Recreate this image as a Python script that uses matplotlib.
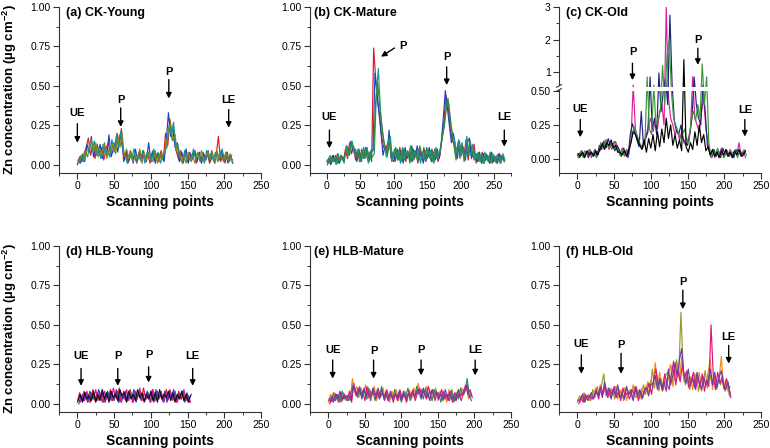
import numpy as np
import matplotlib
matplotlib.use('Agg')
import matplotlib.pyplot as plt
from matplotlib.ticker import MultipleLocator, FixedLocator, FixedFormatter, FormatStrFormatter

plt.rcParams['font.family'] = ['Liberation Sans', 'DejaVu Sans']
plt.rcParams['mathtext.fontset'] = 'custom'
plt.rcParams['mathtext.rm'] = 'Liberation Sans'
plt.rcParams['mathtext.bf'] = 'Liberation Sans:bold'

# ---------------- data (Zn, in units of 0.01 ug cm^-2), sampled every 3 scanning points ----------------
STEP = 3

# (a) CK-Young
a_s1 = [0,5,2,7,11,17,6,12,4,13, 6,11,3,10,14,7,12,9,20,14, 23,2,8,1,9,3,7,1,8,2, 9,4,6,1,8,3,7,2,9,3,
        20,12,29,16,21,8,3,9,1,7, 2,8,3,9,1,6,2,8,3,7, 1,9,2,6,18,2,7,1,8,2,6]
a_s2 = [3,1,6,2,13,8,18,5,11,7, 13,4,12,6,19,5,10,15,8,19, 12,3,9,2,7,1,10,3,8,4, 6,2,14,3,9,1,7,4,6,2,
        15,33,18,24,11,14,2,8,3,10, 1,7,4,9,2,8,1,7,3,9, 2,6,1,8,3,9,2,7,1,6,3]
a_s3 = [1,6,2,8,5,14,9,15,6,10, 4,13,7,9,5,16,8,18,11,21, 9,6,1,7,4,10,2,6,3,9, 1,8,5,2,10,4,8,1,6,9,
        11,25,19,27,9,13,4,1,9,3, 7,2,10,4,8,2,6,1,9,4, 7,3,8,2,5,10,3,8,2,5,1]
a_s4 = [2,3,7,3,9,10,16,8,14,5, 10,6,14,4,10,9,14,7,17,11, 20,5,10,4,8,2,6,4,10,1, 7,3,8,5,2,9,1,7,3,8,
        13,22,26,15,19,7,9,2,6,1, 8,3,6,1,7,4,9,2,5,8, 3,7,1,9,4,6,2,8,3,7,1]

# (b) CK-Mature
b_s1 = [0,5,1,6,2,7,1,5,3, 10,4,14,7,12, 3,9,2,10,4,11,3,8,2, 74,55,40,30,18,11,9,14,12,4,
        2,9,3,11,5,10,2,8,4,12,3,9,1,10,4,11,2,8,5,10,3,9,2, 6,17,28,44,38,24,16,13,
        5,14,4,12,6,16,3,11,5,13, 1,7,3,8,1,6,2,7,1,5,3,7,1,6,2]
b_s2 = [2,4,0,6,2,5,1,6,3, 6,12,8,15,9, 9,2,10,3,8,4,11,2,9, 9,58,45,33,20,6,12,5,22,4,
        8,2,10,3,9,1,11,4,8,2,10,5,12,3,8,1,9,4,11,2,8,3,10, 4,15,30,47,36,25,14,20,
        12,4,15,6,11,3,14,17,4,9, 6,2,8,1,7,3,6,1,8,2,5,1,7,3,5]
b_s3 = [1,6,2,4,0,7,2,5,1, 12,6,13,15,7, 6,10,2,9,4,10,1,8,5, 7,45,61,35,22,13,5,15,18,3,
        10,4,9,1,11,3,8,5,12,2,9,4,10,1,8,3,11,5,9,2,10,4,7, 11,19,26,40,39,27,18,15,
        8,16,5,12,3,18,9,6,13,4, 7,2,6,1,8,3,5,1,7,2,6,4,1,7,3]
b_s4 = [3,1,5,2,6,1,4,6,2, 8,11,6,13,10, 10,4,7,2,11,5,9,3,8, 10,40,52,38,25,15,10,7,15,2,
        6,11,3,8,2,10,5,9,1,11,4,7,2,12,6,9,3,10,4,8,1,11,5, 8,16,24,35,42,30,20,12,
        3,12,8,14,2,10,6,15,9,3, 4,8,2,6,1,7,3,8,2,6,1,5,3,6,2]

# (c) CK-Old
c_s1 = [1,5,2,6,3,7,1,5,2,6, 6,12,9,14,7,12,10,13,8, 3,8,2,7,3, 14,60,22,16,11,
        9,13,18,25,30,20,28,22,35,40,25,300,45,30,25,18,22,14,20,12,10,15,22,85,30,25,20,35,45,22,12,
        2,7,1,6,3,8,1,5,2,7,1,6,3,12,2,6,1]
c_s2 = [3,1,6,2,5,1,6,3,7,2, 10,7,13,8,15,9,11,6,10, 7,2,8,4,1, 18,26,20,14,9,
        35,10,15,20,85,22,30,18,97,35,50,80,40,275,60,28,20,18,25,15,12,10,18,30,85,40,30,25,60,35,10,
        5,1,7,2,6,1,8,3,6,2,5,1,7,3,6,2,5]
c_s3 = [2,6,1,5,3,7,2,6,1,5, 12,8,14,9,11,7,13,9,6, 2,7,3,6,8, 16,24,19,15,10,
        8,12,85,22,18,60,25,30,35,120,40,150,200,50,30,25,20,15,18,22,14,12,30,35,28,40,30,125,40,85,12,
        1,6,3,8,2,5,1,7,2,6,3,7,1,5,2,7,3]
c_s4 = [4,2,5,1,6,3,5,2,6,3, 8,11,7,12,10,14,8,10,5, 5,3,6,2,7, 12,20,18,14,10,
        7,14,5,15,8,18,6,20,9,22,12,30,15,25,10,18,8,14,6,138,9,5,12,7,20,10,25,12,18,6,9,
        3,7,2,5,1,6,3,7,2,5,1,6,3,7,2,4,6]

# (d) HLB-Young
d_s1 = [1,7,2,8,3,6,1,9,2,7, 3,8,1,6,4,9,2,7,3,10, 1,8,2,6,9,1,7,3,8,2, 10,4,7,1,9,2,6,3,8,1, 7,2,9,4,6,1,8,3,7,2, 6,1]
d_s2 = [3,1,6,2,8,1,7,3,9,2, 6,1,8,3,7,2,10,4,8,1, 6,3,9,2,7,1,8,4,10,2, 7,3,6,1,9,2,8,4,6,1, 9,3,7,2,8,1,6,3,9,2, 5,1]
d_s3 = [0,5,2,7,1,8,3,6,2,9, 4,7,1,8,3,6,2,9,1,7, 3,8,2,6,4,9,1,7,3,6, 2,8,4,7,1,9,3,6,2,8, 1,7,3,9,2,6,4,8,1,7, 3,6]
d_s4 = [2,6,1,7,3,5,2,8,1,6, 2,9,3,7,1,8,4,6,2,9, 5,7,1,8,3,6,2,9,4,7, 1,6,3,8,2,7,1,9,3,6, 4,8,2,7,1,6,3,8,2,6, 1,5]

# (e) HLB-Mature
e_s1 = [1,6,2,7,3,5,1,7,2,6, 3,16,7,11,4,10,6,12,3,9, 5,11,2,8,4,10,3,7,1,8, 3,9,2,7,4,8,2,9,3,10,
        5,13,4,9,6,11,3,8,5,10, 2,8,4,7,1,9,3,6,2,8, 4,10,6,11,3,7]
e_s2 = [3,1,7,2,6,1,8,3,5,2, 7,12,9,4,11,5,9,3,10,6, 8,2,9,4,11,3,8,2,6,4, 9,3,8,1,7,5,10,2,8,4,
        11,6,9,3,10,4,8,2,9,5, 7,1,8,3,6,2,9,1,7,3, 10,5,8,16,5,2]
e_s3 = [0,5,2,6,1,7,3,5,2,8, 1,13,5,10,6,8,2,11,4,7, 9,3,10,5,7,2,9,4,6,1, 7,2,9,3,6,1,8,4,9,2,
        7,10,5,8,3,11,6,9,2,7, 4,9,3,6,2,8,1,7,4,6, 2,8,12,6,9,4]
e_s4 = [2,4,1,6,3,8,2,6,4,5, 2,11,8,6,9,3,10,5,8,2, 10,6,7,3,9,5,6,2,8,3, 6,4,7,2,8,3,6,5,7,4,
        8,9,3,10,5,7,2,9,4,8, 3,6,2,9,4,7,3,5,2,9, 5,7,9,12,4,6]

# (f) HLB-Old
f_s1 = [1,5,2,7,3,6,2, 9,4,11,6,12, 19, 5,10,4,9,3,11,5,8,2,10,6,9,3,11,4,8,5,12, 6,14,8, 22,10,19, 8,16,9,18,
        20,12,24,15, 28,18, 58, 22,12,18, 9,17,11,19,8,16,12,21, 10,20, 13,19,9,16, 12, 17,8,13,5]
f_s2 = [3,1,6,2,5,2,7, 6,10,5,12,7, 8, 9,4,10,5,11,3,9,6,10,2,8,5,12,4,9,3,10,6, 12,7,15, 10,26,12, 20,9,17,12,
        19,25,11,20, 26,15, 30, 14,20,11, 17,9,19,12,20,8,16,11, 20,28, 9,18,12,16, 30, 10,15,8,11]
f_s3 = [0,4,1,6,2,5,3, 5,9,3,11,6, 12, 4,9,6,11,4,8,2,10,5,7,3,9,6,11,2,8,4,10, 9,13,6, 16,22,11, 15,8,19,13,
        9,18,27,12, 22,14, 25, 16,21,10, 14,20,9,17,11,19,8,15, 11,50, 18,9,20,13, 17, 9,16,11,4]
f_s4 = [2,3,6,1,5,4,7, 3,8,5,10,4, 14, 6,10,3,9,5,12,4,7,3,11,6,8,2,10,5,9,3,8, 10,5,12, 13,18,9, 16,10,14,8,
        22,12,18,26, 17,28, 35, 19,13,22, 12,16,10,20,13,9,17,12, 15,22, 12,20,10,17, 21, 12,9,14,6]

panels = [
    ('(a) CK-Young',  [a_s1, a_s2, a_s3, a_s4], [0, 1, 2, 1], ['#E41A1C', '#1F3FC8', '#0E9494', '#7A8B1E']),
    ('(b) CK-Mature', [b_s1, b_s2, b_s3, b_s4], [1, 0, 2, 1], ['#D81B2A', '#2C3FBF', '#109A8C', '#2E8B3C']),
    ('(c) CK-Old',    [c_s1, c_s2, c_s3, c_s4], [1, 0, 2, 1], ['#E0209A', '#23237E', '#3A9A3A', '#000000']),
    ('(d) HLB-Young', [d_s1, d_s2, d_s3, d_s4], [0, 1, 2, 1], ['#E8141A', '#E0157A', '#2A3ACF', '#111111']),
    ('(e) HLB-Mature',[e_s1, e_s2, e_s3, e_s4], [0, 1, 2, 1], ['#F08A1C', '#2E8B57', '#E0157A', '#6A3DA8']),
    ('(f) HLB-Old',   [f_s1, f_s2, f_s3, f_s4], [0, 1, 2, 1], ['#9A9A2A', '#F08A1C', '#E0157A', '#6A3DA8']),
]

# annotations: label, x, y_text, y_arrow_start, y_arrow_end
ann = [
    [('UE', 0, 0.33, 0.26, 0.14), ('P', 59, 0.41, 0.36, 0.24), ('P', 124.5, 0.59, 0.54, 0.42), ('LE', 206, 0.41, 0.35, 0.235)],
    [('UE', 4, 0.30, 0.22, 0.105), ('P', 179, 0.685, 0.62, 0.505), ('LE', 265, 0.30, 0.22, 0.115)],
    [('UE', 4, 0.37, 0.29, 0.16), ('P', 75, 1.62, 1.27, 0.75), ('P', 164, 1.98, 1.73, 1.22), ('LE', 228, 0.36, 0.29, 0.165)],
    [('UE', 5, 0.30, 0.224, 0.114), ('P', 55, 0.30, 0.224, 0.114), ('P', 97, 0.31, 0.234, 0.135), ('LE', 157, 0.30, 0.224, 0.114)],
    [('UE', 6, 0.344, 0.277, 0.16), ('P', 62, 0.333, 0.277, 0.16), ('P', 127, 0.344, 0.277, 0.18), ('LE', 201, 0.344, 0.277, 0.18)],
    [('UE', 5.4, 0.382, 0.31, 0.19), ('P', 59.5, 0.37, 0.32, 0.19), ('P', 143.6, 0.77, 0.72, 0.60), ('LE', 206, 0.424, 0.37, 0.255)],
]

xlims = [(-25, 250), (-25, 275), (-25, 250), (-25, 250), (-25, 250), (-25, 250)]

W, H = 770, 448
fig = plt.figure(figsize=(W / 100, H / 100), dpi=100)

lefts = [59, 310, 559]
widths = [202, 201, 202]
bottoms = [173, 412]
AXH = 166

# broken scale for panel (c)
K = 0.239
J = 0.02


def fwd(y):
    y = np.asarray(y, dtype=float)
    return np.where(y <= 0.5, y, 0.5 + J + (y - 0.5) * K)


def inv(u):
    u = np.asarray(u, dtype=float)
    return np.where(u <= 0.5, u, np.where(u < 0.5 + J, 0.5, 0.5 + (u - 0.5 - J) / K))


for idx, (title, series, offs, cols) in enumerate(panels):
    r, c = divmod(idx, 3)
    ax = fig.add_axes([lefts[c] / W, (H - bottoms[r]) / H, widths[c] / W, AXH / H])
    if idx == 2:
        ax.set_yscale('function', functions=(fwd, inv))
    for vals, off, col in zip(series, offs, cols):
        v = np.asarray(vals, dtype=float) / 100.0
        x = off + STEP * np.arange(len(v))
        ax.plot(x, v, color=col, lw=0.85, zorder=2)

    ax.set_xlim(*xlims[idx])
    for s in ['top', 'right']:
        ax.spines[s].set_visible(False)
    for s in ['left', 'bottom']:
        ax.spines[s].set_linewidth(0.8)
        ax.spines[s].set_color('#333333')
    ax.xaxis.set_major_locator(MultipleLocator(50))
    ax.xaxis.set_minor_locator(MultipleLocator(25))
    if idx == 2:
        ax.set_ylim(-0.103, 3.0)
        ax.yaxis.set_major_locator(FixedLocator([0, 0.25, 0.5, 1, 2, 3]))
        ax.yaxis.set_major_formatter(FixedFormatter(['0.00', '0.25', '0.50', '1', '2', '3']))
        ax.yaxis.set_minor_locator(FixedLocator([0.125, 0.375, 1.5, 2.5]))
        ax.axhspan(0.5, 0.53, color='white', zorder=2.3, lw=0)
        # break mark on the y spine
        yb = (fwd(0.51) + 0.103) / (fwd(3.0) + 0.103)
        ax.add_patch(plt.Rectangle((-0.01, yb - 0.012), 0.02, 0.024, transform=ax.transAxes,
                                   color='white', zorder=3, clip_on=False, lw=0))
        for dy in (-0.012, 0.012):
            ax.plot([-0.012, 0.012], [yb + dy - 0.008, yb + dy + 0.008], transform=ax.transAxes,
                    color='#333333', lw=0.8, clip_on=False, zorder=4)
    else:
        ax.set_ylim(-0.052, 1.0)
        ax.yaxis.set_major_locator(MultipleLocator(0.25))
        ax.yaxis.set_minor_locator(MultipleLocator(0.125))
        ax.yaxis.set_major_formatter(FormatStrFormatter('%.2f'))
    ax.tick_params(which='major', direction='out', length=4, width=0.8, labelsize=7.5, pad=2, color='#333333')
    ax.tick_params(which='minor', direction='out', length=2, width=0.7, color='#333333')
    ax.set_xlabel('Scanning points', fontsize=10, fontweight='bold', labelpad=2.5)
    ax.text(0.035 if c != 1 else 0.02, 0.962, title, transform=ax.transAxes, ha='left', va='center',
            fontsize=9, fontweight='bold')

    for lab, x, yt, y0, y1 in ann[idx]:
        ax.annotate('', xy=(x, y1), xytext=(x, y0),
                    arrowprops=dict(arrowstyle='-|>', color='black', lw=1.0, mutation_scale=8,
                                    shrinkA=0, shrinkB=0), zorder=5)
        ax.text(x, yt, lab, ha='center', va='center', fontsize=8, fontweight='bold', zorder=5)
    if idx == 1:
        ax.annotate('', xy=(81, 0.685), xytext=(101, 0.74),
                    arrowprops=dict(arrowstyle='-|>', color='black', lw=1.0, mutation_scale=8,
                                    shrinkA=0, shrinkB=0), zorder=5)
        ax.text(113, 0.75, 'P', ha='center', va='center', fontsize=8, fontweight='bold', zorder=5)

ylab = 'Zn concentration (µg cm$^{\\mathbf{-2}}$)'
for r in range(2):
    yc = (bottoms[r] - AXH / 2) / H
    fig.text(10 / W, 1 - yc, ylab, rotation=90, ha='center', va='center', fontsize=9.5, fontweight='bold')

fig.savefig('out.png', dpi=100)
